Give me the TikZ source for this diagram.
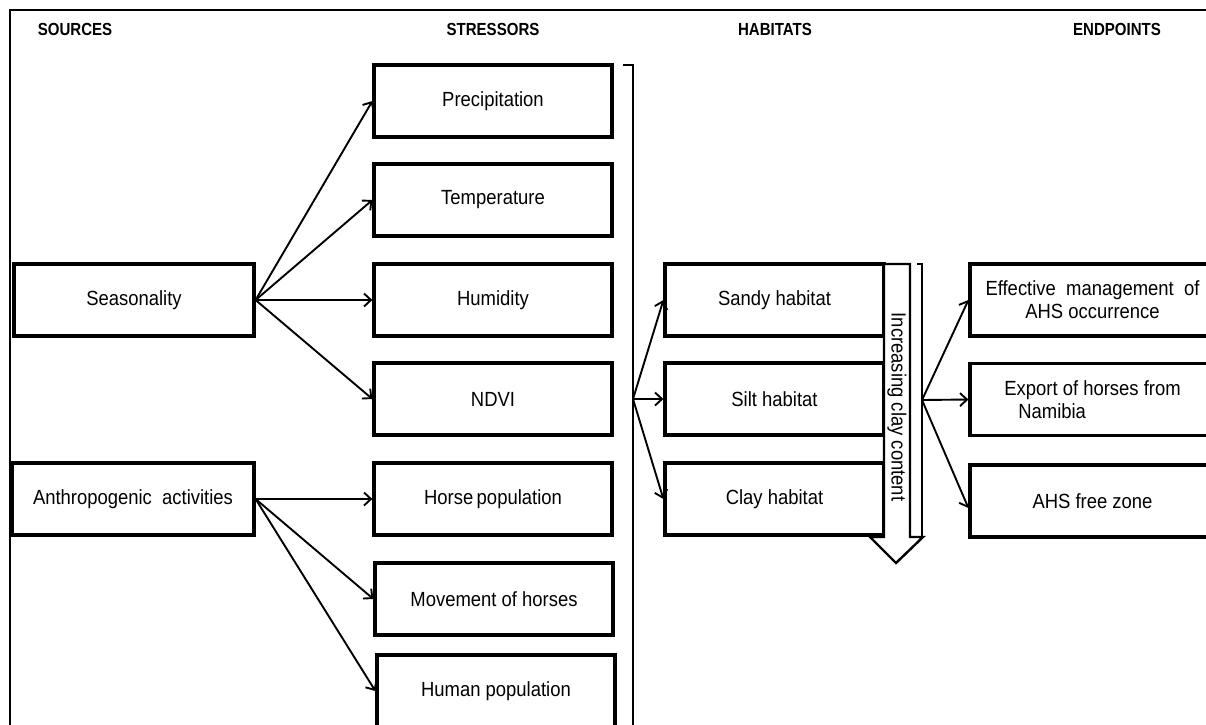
\documentclass[tikz,border=0pt]{standalone}
\usepackage{fontspec}
\setmainfont{Liberation Sans}
\newfontfamily\boxfont[FakeStretch=0.9]{Liberation Sans}
\newfontfamily\headfont[FakeStretch=0.86]{Liberation Sans}
\usetikzlibrary{arrows.meta}
\begin{document}
\begin{tikzpicture}[x=1pt,y=-1pt,
  box/.style={draw=black,line width=3.2pt,rectangle,inner sep=2pt,
    minimum height=72pt,font=\boxfont\fontsize{20.5}{23}\selectfont,align=center},
  srcbox/.style={box,minimum width=240pt},
  strbox/.style={box,minimum width=238pt},
  habbox/.style={box,minimum width=219pt},
  endbox/.style={box,minimum width=245pt},
  head/.style={font=\headfont\bfseries\fontsize{17.5}{20}\selectfont},
  link/.style={line width=1.9pt,-{Straight Barb[length=7pt,width=13pt,line width=1.9pt]}},
  rule/.style={line width=2pt}]
\useasboundingbox (0,0) rectangle (1206,724);
\clip (0,0) rectangle (1206,724);

% frame
\draw[rule] (10,740) -- (10,10) -- (1215,10);

% column headings
\node[head] (hsrc) at (75,29) {SOURCES};
\node[head] (hstr) at (493,29) {STRESSORS};
\node[head] (hhab) at (775,29) {HABITATS};
\node[head] (hend) at (1117,29) {ENDPOINTS};

% sources
\node[srcbox] (seas) at (134,300) {Seasonality};
\node[srcbox,minimum width=242pt] (anth) at (133,499) {Anthropogenic\ \ activities};

% stressors
\node[strbox] (prec) at (493,101) {Precipitation};
\node[strbox] (temp) at (493,200) {Temperature};
\node[strbox] (humi) at (493,300) {Humidity};
\node[strbox] (ndvi) at (493,399) {NDVI};
\node[strbox] (hpop) at (493,499) {Horse\,population};
\node[strbox] (move) at (494,599) {Movement of horses};
\node[strbox] (hum) at (496,691) {Human population};

% bracket round the stressors
\draw[rule] (623,65) -- (633,65) -- (633,740);
\coordinate (bs) at (633,399);

% habitats
\node[habbox] (sand) at (774.5,300) {Sandy habitat};
\node[habbox] (silt) at (774.5,399) {Silt habitat};
\node[habbox] (clay) at (774.5,499) {Clay habitat};

% hollow arrow: increasing clay content
\draw[line width=2.4pt,fill=white,line join=miter]
  (884,264) -- (910,264) -- (910,537) -- (923,537) -- (896,563)
  -- (870,537) -- (884,537) -- cycle;
\node[rotate=-90,font=\boxfont\fontsize{20.5}{23}\selectfont] (clayarrow) at (897,407) {Increasing clay content};

% bracket round the habitats
\draw[rule] (917,264) -- (922,264) -- (922,537) -- (917,537);
\coordinate (bh) at (922,400);

% endpoints
\node[endbox] (mgmt) at (1092.5,300) {Effective\ \ management\ \ of\\AHS occurrence};
\node[endbox,align=left] (expo) at (1092.5,399.5) {Export of horses from\\\hspace*{14pt}Namibia};
\node[endbox] (free) at (1092.5,501) {AHS free zone};

% sources to stressors
\draw[link] (seas.east) -- (prec.west);
\draw[link] (seas.east) -- (temp.west);
\draw[link] (seas.east) -- (humi.west);
\draw[link] (seas.east) -- (ndvi.west);
\draw[link] (anth.east) -- (hpop.west);
\draw[link] (anth.east) -- (move.west);
\draw[link] (anth.east) -- (hum.west);

% stressors to habitats
\draw[link] (bs) -- (sand.west);
\draw[link] (bs) -- (silt.west);
\draw[link] (bs) -- (clay.west);

% habitats to endpoints
\draw[link] (bh) -- (mgmt.west);
\draw[link] (bh) -- (expo.west);
\draw[link] (bh) -- ([yshift=-7pt]free.west);
\end{tikzpicture}
\end{document}
